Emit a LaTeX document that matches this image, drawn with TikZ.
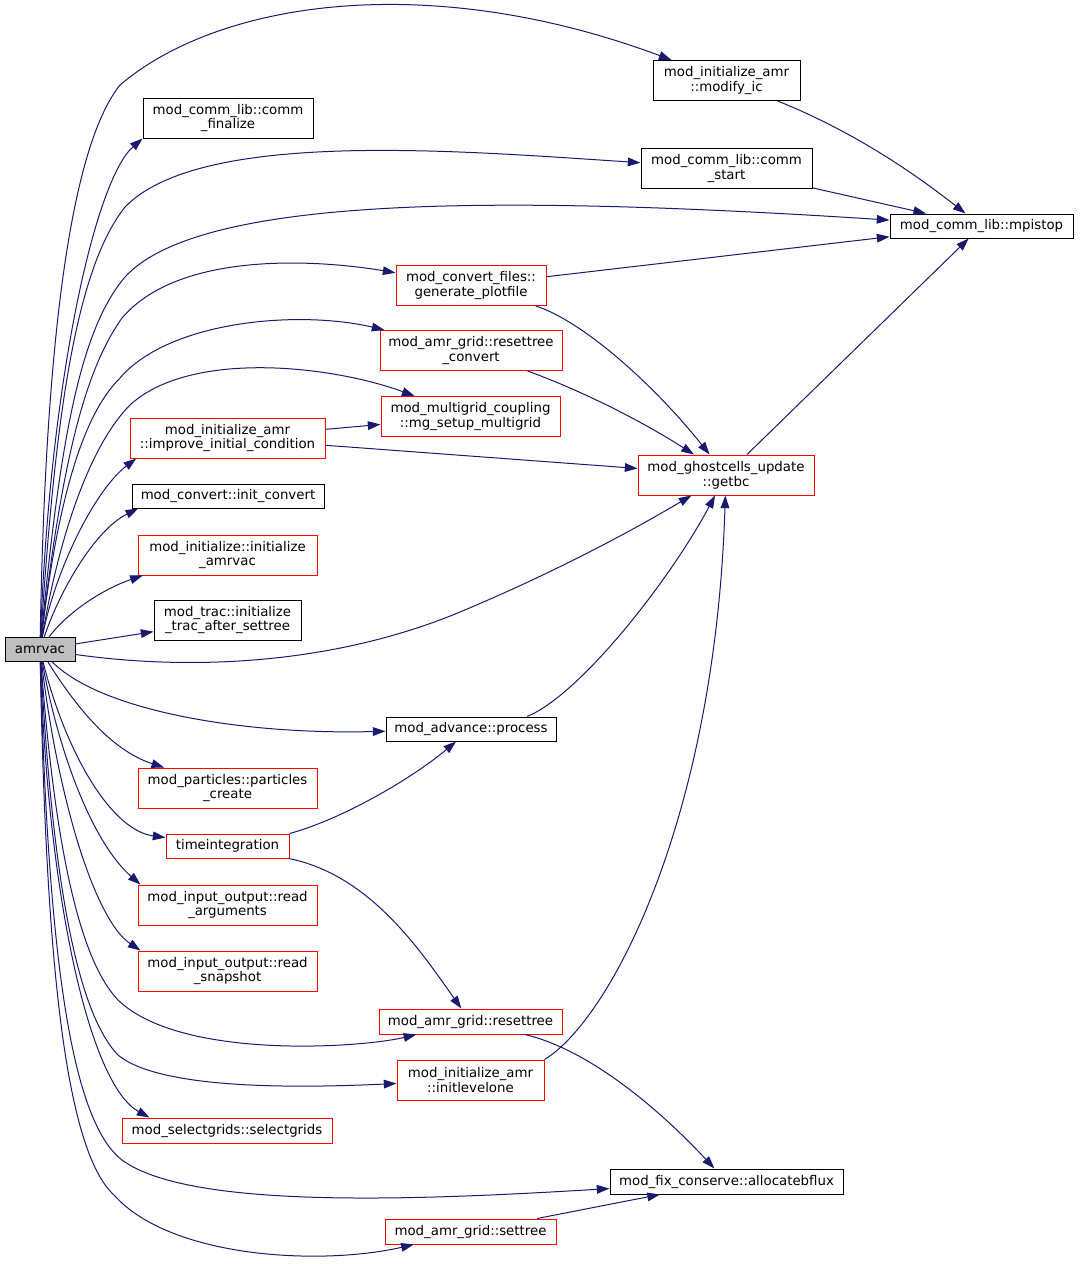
\documentclass[tikz,border=0pt]{standalone}
\usepackage{fontspec}
\setmainfont{DejaVu Sans}
\usetikzlibrary{arrows.meta}
\definecolor{edgeblue}{RGB}{25,25,112}
\definecolor{rootgray}{RGB}{191,191,191}
\tikzset{
  fn/.style={draw=black, line width=0.75pt, inner sep=0pt, align=center,
    font=\fontsize{10}{11.2}\selectfont},
  redfn/.style={fn, draw=red},
  rootfn/.style={fn, fill=rootgray},
  wh/.style 2 args={minimum width=#1*0.75pt, minimum height=#2*0.75pt},
  edge/.style={draw=edgeblue, line width=0.75pt,
    -{Triangle[length=9.5pt,width=6.5pt]}},
}
\begin{document}
\begin{tikzpicture}[x=0.75pt,y=-0.75pt]
\useasboundingbox (0,0) rectangle (1079,1264);
% nodes
\node[rootfn, wh={70}{24}] (amrvac) at (40,649.5) {amrvac};
\node[fn, wh={147}{40}] (modifyic) at (726.5,80.5) {mod\_initialize\_amr\\::modify\_ic};
\node[fn, wh={170}{40}] (commfin) at (228,118) {mod\_comm\_lib::comm\\\_finalize};
\node[fn, wh={171}{40}] (commstart) at (726.5,168.5) {mod\_comm\_lib::comm\\\_start};
\node[fn, wh={183}{24}] (mpistop) at (981.5,226) {mod\_comm\_lib::mpistop};
\node[redfn, wh={150}{40}] (genplot) at (471,285.5) {mod\_convert\_files::\\generate\_plotfile};
\node[redfn, wh={182}{40}] (resetconv) at (471,350.5) {mod\_amr\_grid::resettree\\\_convert};
\node[redfn, wh={179}{40}] (mgsetup) at (470.5,416.5) {mod\_multigrid\_coupling\\::mg\_setup\_multigrid};
\node[redfn, wh={195}{40}] (improve) at (227.5,438) {mod\_initialize\_amr\\::improve\_initial\_condition};
\node[redfn, wh={176}{40}] (getbc) at (726,475) {mod\_ghostcells\_update\\::getbc};
\node[fn, wh={192}{24}] (initconv) at (228,496) {mod\_convert::init\_convert};
\node[redfn, wh={179}{40}] (initamrvac) at (227.5,555) {mod\_initialize::initialize\\\_amrvac};
\node[fn, wh={147}{40}] (trac) at (227.5,620) {mod\_trac::initialize\\\_trac\_after\_settree};
\node[fn, wh={170}{24}] (process) at (471,729) {mod\_advance::process};
\node[redfn, wh={179}{40}] (particles) at (227.5,788) {mod\_particles::particles\\\_create};
\node[redfn, wh={123}{24}] (timeint) at (227.5,846) {timeintegration};
\node[redfn, wh={179}{40}] (readargs) at (227.5,905) {mod\_input\_output::read\\\_arguments};
\node[redfn, wh={179}{40}] (readsnap) at (227.5,971) {mod\_input\_output::read\\\_snapshot};
\node[redfn, wh={183}{25}] (resettree) at (470.5,1021.5) {mod\_amr\_grid::resettree};
\node[redfn, wh={147}{40}] (initlev) at (470.5,1080) {mod\_initialize\_amr\\::initlevelone};
\node[redfn, wh={210}{25}] (selgrids) at (227,1130.5) {mod\_selectgrids::selectgrids};
\node[fn, wh={233}{25}] (allocflux) at (726.5,1181.5) {mod\_fix\_conserve::allocatebflux};
\node[redfn, wh={171}{25}] (settree) at (470.5,1231.5) {mod\_amr\_grid::settree};
% edges from amrvac
\draw[edge] (amrvac) .. controls (44,420) and (60,160) .. (120,85) .. controls (220,0) and (430,-30) .. (modifyic);
\draw[edge] (amrvac) .. controls (50,380) and (95,180) .. (commfin.south west);
\draw[edge] (amrvac) .. controls (55,420) and (75,270) .. (125,207) .. controls (200,130) and (450,150) .. (commstart);
\draw[edge] (amrvac) .. controls (60,440) and (80,330) .. (125,277) .. controls (200,195) and (500,195) .. (mpistop);
\draw[edge] (amrvac) .. controls (62,460) and (85,370) .. (122,318) .. controls (180,250) and (320,260) .. (genplot);
\draw[edge] (amrvac) .. controls (60,480) and (88,410) .. (120,378) .. controls (170,320) and (300,310) .. (resetconv);
\draw[edge] (amrvac) .. controls (62,520) and (95,440) .. (130,405) .. controls (190,350) and (330,365) .. (mgsetup);
\draw[edge] (amrvac) .. controls (55,570) and (95,490) .. ([xshift=5pt]improve.south west);
\draw[edge] (amrvac) .. controls (60,590) and (95,530) .. ([xshift=5pt]initconv.south west);
\draw[edge] (amrvac) .. controls (65,615) and (100,590) .. ([xshift=4pt]initamrvac.south west);
\draw[edge] (amrvac) -- (trac);
\draw[edge] (amrvac) .. controls (200,672) and (340,662) .. (460,612) .. controls (570,566) and (650,520) .. (getbc);
\draw[edge] (amrvac) .. controls (100,710) and (240,735) .. (process);
\draw[edge] (amrvac) .. controls (75,705) and (110,750) .. (particles);
\draw[edge] (amrvac) .. controls (65,750) and (110,830) .. (timeint);
\draw[edge] (amrvac) .. controls (60,760) and (95,845) .. ([xshift=2.25pt]readargs.north west);
\draw[edge] (amrvac) .. controls (58,800) and (95,920) .. ([xshift=2.25pt]readsnap.north west);
\draw[edge] (amrvac) .. controls (55,850) and (80,960) .. (118,1000) .. controls (180,1060) and (360,1048) .. (resettree);
\draw[edge] (amrvac) .. controls (52,870) and (75,1010) .. (118,1055) .. controls (160,1090) and (300,1088) .. (initlev);
\draw[edge] (amrvac) .. controls (48,900) and (90,1085) .. ([xshift=21pt]selgrids.north west);
\draw[edge] (amrvac) .. controls (48,950) and (70,1120) .. (122,1160) .. controls (190,1210) and (420,1200) .. (allocflux);
\draw[edge] (amrvac) .. controls (46,960) and (65,1150) .. (114,1195) .. controls (170,1258) and (320,1266) .. (settree);
% other edges
\draw[edge] (modifyic) .. controls (850,130) and (910,170) .. (mpistop);
\draw[edge] (commstart) -- (mpistop);
\draw[edge] (genplot) -- (mpistop);
\draw[edge] (genplot) .. controls (580,320) and (650,380) .. (getbc);
\draw[edge] (resetconv) .. controls (580,390) and (640,420) .. (getbc);
\draw[edge] (improve) -- (mgsetup);
\draw[edge] (improve) -- (getbc);
\draw[edge] (getbc) -- (mpistop);
\draw[edge] ([xshift=42pt]process.north) .. controls (580,695) and (670,580) .. (getbc);
\draw[edge] (initlev.north east) .. controls (610,1020) and (715,820) .. (getbc);
\draw[edge] (timeint.north east) .. controls (340,820) and (410,780) .. (process);
\draw[edge] (timeint) .. controls (370,875) and (420,950) .. (resettree);
\draw[edge] (resettree) .. controls (590,1050) and (660,1110) .. (allocflux);
\draw[edge] (settree) -- (allocflux);
\end{tikzpicture}
\end{document}
